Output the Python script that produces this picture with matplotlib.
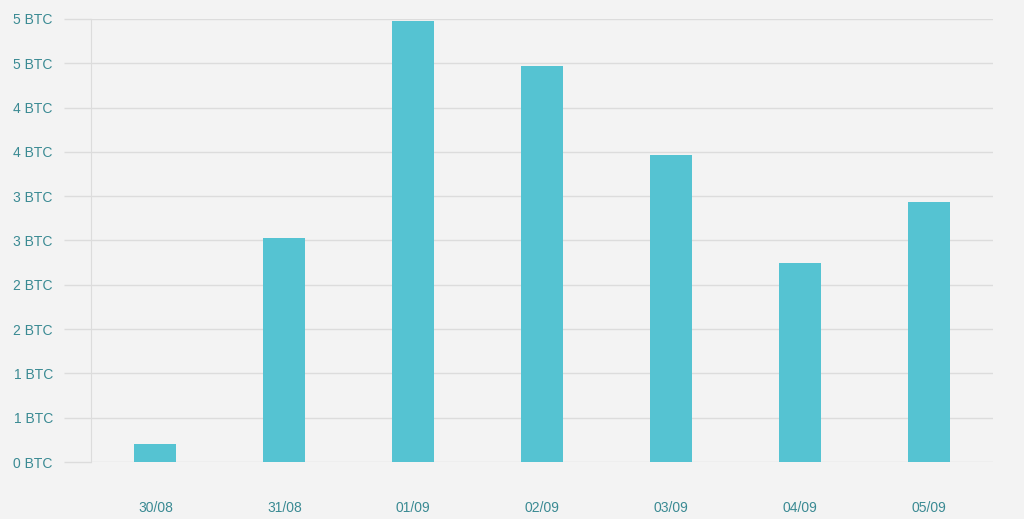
import numpy as np
import matplotlib.pyplot as plt
from matplotlib.ticker import FuncFormatter, MultipleLocator

days = ["30/08", "31/08", "01/09", "02/09", "03/09", "04/09", "05/09"]
btc = [0.20, 2.53, 4.98, 4.47, 3.47, 2.25, 2.93]

bg = "#f3f3f3"
bar_col = "#55c3d2"
grid_col = "#dcdcdc"
txt_col = "#3a8a93"

plt.rcParams["font.family"] = ["Liberation Sans", "DejaVu Sans"]

fig = plt.figure(figsize=(10.24, 5.19), dpi=100, facecolor=bg)
ax = fig.add_axes([91/1024, 1-462/519, (993-91)/1024, (462-19)/519])
ax.set_facecolor(bg)

x = np.arange(len(days))
ax.bar(x, btc, width=0.326, color=bar_col, zorder=3)

ax.set_xlim(-0.5, len(days)-0.5)
ax.set_ylim(0, 5)
ax.yaxis.set_major_locator(MultipleLocator(0.5))
ax.yaxis.set_major_formatter(FuncFormatter(lambda v, p: f"{int(np.floor(v + 0.5))} BTC"))
ax.grid(axis="y", color=grid_col, lw=1, zorder=0)
ax.tick_params(axis="y", length=19.5, width=1, color=grid_col, pad=8, labelsize=10, labelcolor=txt_col)
ax.set_xticks(x)
ax.set_xticklabels(days)
ax.tick_params(axis="x", length=0, pad=28, labelsize=10, labelcolor=txt_col)

for s in ["top", "right", "bottom"]:
    ax.spines[s].set_visible(False)
ax.spines["left"].set_color(grid_col)

fig.savefig("out.png", dpi=100, facecolor=bg)
